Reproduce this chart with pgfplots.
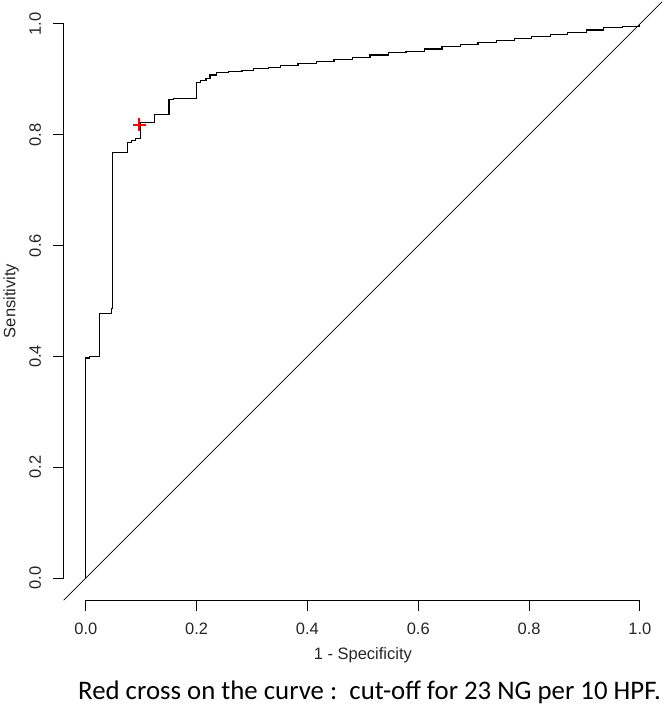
\documentclass[border=0pt]{standalone}
\usepackage{pgfplots}
\pgfplotsset{compat=1.18}
\usepackage{fontspec}
\setmainfont{Liberation Sans}
\newfontfamily\capfont{Carlito}
\begin{document}
\begin{tikzpicture}
\begin{axis}[
    scale only axis, width=598.32pt, height=598.32pt,
    xmin=-0.04, xmax=1.04, ymin=-0.04, ymax=1.04,
    axis x line=bottom, axis y line=left,
    axis line style={draw=none},
    xtick={0,0.2,0.4,0.6,0.8,1}, ytick={0,0.2,0.4,0.6,0.8,1},
    xticklabels={0.0,0.2,0.4,0.6,0.8,1.0},
    yticklabels={0.0,0.2,0.4,0.6,0.8,1.0},
    tick align=outside, major tick length=10.5pt,
    tick style={black, line width=1pt},
    ticklabel style={font=\fontsize{16.5}{18}\selectfont, text=black!85},
    xticklabel style={anchor=center, yshift=-18pt},
    yticklabel style={rotate=90, anchor=center, yshift=18pt},
    label style={font=\fontsize{16.5}{18}\selectfont, text=black!85},
    xlabel={1 - Specificity}, ylabel={Sensitivity},
    xlabel style={at={(rel axis cs:0.5,-0.0917)}, anchor=center},
    ylabel style={at={(rel axis cs:-0.088,0.5)}, anchor=center},
    clip=false,
]
\path (axis cs:-0.1516,-0.2310) rectangle (axis cs:1.0505,1.0433);
\draw[line width=1pt] (axis cs:0,-0.04) -- (axis cs:1,-0.04);
\draw[line width=1pt] (axis cs:-0.04,0) -- (axis cs:-0.04,1);
% reference diagonal
\addplot[black, line width=0.8pt] coordinates {(-0.04,-0.04)(1.04,1.04)};
% ROC curve
\addplot[const plot, black, line width=1.2pt] coordinates {
    (0,0)(0,0.397)(0.006,0.400)(0.024,0.477)(0.047,0.487)(0.048,0.768)
    (0.075,0.786)(0.082,0.790)(0.090,0.793)(0.099,0.822)(0.124,0.836)
    (0.150,0.863)(0.158,0.866)(0.200,0.894)(0.207,0.898)(0.217,0.902)
    (0.224,0.908)(0.236,0.912)(0.258,0.914)(0.282,0.916)(0.303,0.919)
    (0.330,0.922)(0.351,0.925)(0.383,0.929)(0.416,0.933)(0.448,0.936)
    (0.481,0.940)(0.513,0.944)(0.546,0.948)(0.578,0.951)(0.611,0.955)
    (0.643,0.959)(0.676,0.963)(0.708,0.966)(0.741,0.970)(0.773,0.974)
    (0.805,0.978)(0.838,0.981)(0.870,0.985)(0.903,0.989)(0.935,0.993)
    (0.968,0.996)(1.000,1.000)};
% cut-off point
\addplot[only marks, mark=+, red, mark size=6.5pt, mark options={line width=2pt}]
    coordinates {(0.096,0.818)};
\node[font=\capfont\fontsize{26.8}{30}\selectfont, inner sep=0pt, anchor=base]
    at (axis cs:0.512,-0.219)
    {Red cross on the curve :\ \ cut-off for 23 NG per 10 HPF.};
\end{axis}
\end{tikzpicture}
\end{document}
